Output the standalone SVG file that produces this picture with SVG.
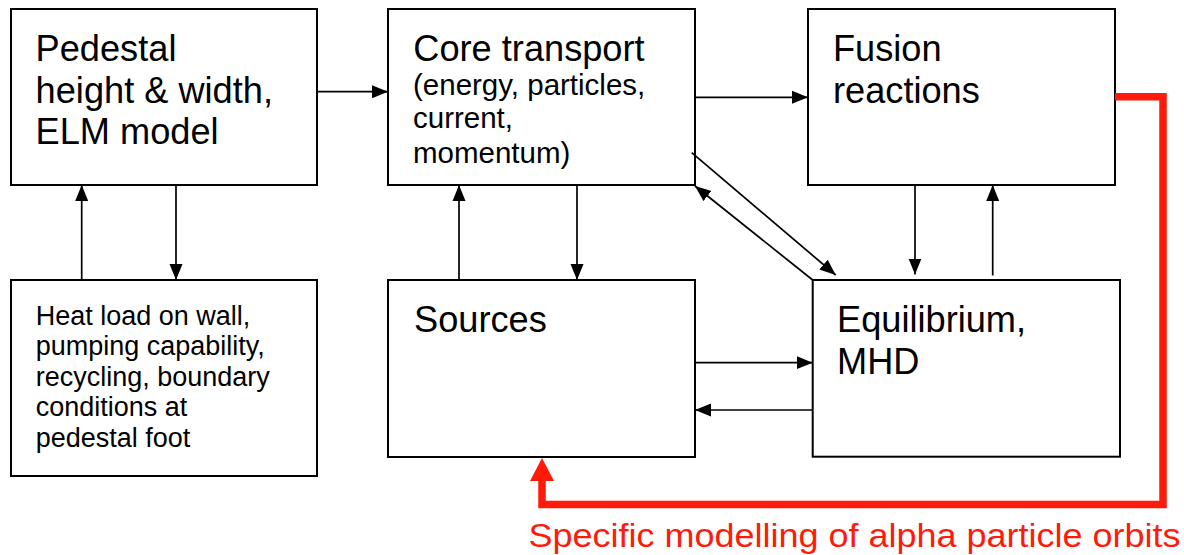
<svg xmlns="http://www.w3.org/2000/svg" width="1184" height="555" viewBox="0 0 1184 555">
<style>
.box{fill:#fff;stroke:#000;stroke-width:2}
.t{font-family:"Liberation Sans",Arial,sans-serif;fill:#000}
.big{font-size:36.2px}
.mid{font-size:29.5px}
.small{font-size:27px}
.arr{stroke:#000;stroke-width:1.7;fill:none;marker-end:url(#ah)}
.red{fill:#ff1a0a}
</style>
<defs>
<marker id="ah" markerUnits="userSpaceOnUse" markerWidth="16" markerHeight="14" refX="16" refY="6.5" orient="auto" viewBox="0 0 16 13">
<path d="M0,0 L16,6.5 L0,13 Z" fill="#000"/>
</marker>
</defs>
<rect width="1184" height="555" fill="#fff"/>
<g id="pedestal">
<rect class="box" x="11" y="9" width="306" height="176"/>
<text class="t big" x="35.6" y="61">Pedestal</text>
<text class="t big" x="35.6" y="102.5">height &amp; width,</text>
<text class="t big" x="35.6" y="144">ELM model</text>
</g>
<g id="core">
<rect class="box" x="388" y="9" width="307" height="176"/>
<text class="t big" x="413.3" y="61">Core transport</text>
<text class="t mid" x="413" y="94.5">(energy, particles,</text>
<text class="t mid" x="413" y="128.3">current,</text>
<text class="t mid" x="413" y="162.5">momentum)</text>
</g>
<g id="fusion">
<rect class="box" x="808" y="9" width="307" height="176"/>
<text class="t big" x="833" y="61">Fusion</text>
<text class="t big" x="833" y="102.5">reactions</text>
</g>
<g id="heat">
<rect class="box" x="11" y="280" width="306" height="196"/>
<text class="t small" x="35.7" y="325">Heat load on wall,</text>
<text class="t small" x="35.7" y="355.3">pumping capability,</text>
<text class="t small" x="35.7" y="385.6">recycling, boundary</text>
<text class="t small" x="35.7" y="416">conditions at</text>
<text class="t small" x="35.7" y="446.5">pedestal foot</text>
</g>
<g id="sources">
<rect class="box" x="388" y="280" width="307" height="177"/>
<text class="t big" x="414" y="332">Sources</text>
</g>
<g id="equilibrium">
<rect class="box" x="812.7" y="280" width="307.3" height="176.7"/>
<text class="t big" x="837" y="332">Equilibrium,</text>
<text class="t big" x="837" y="373.5">MHD</text>
</g>
<g id="connectors">
<line class="arr" x1="317" y1="91.7" x2="388" y2="91.7"/>
<line class="arr" x1="695" y1="97.3" x2="808" y2="97.3"/>
<line class="arr" x1="176" y1="185" x2="176" y2="280"/>
<line class="arr" x1="81.7" y1="280" x2="81.7" y2="185"/>
<line class="arr" x1="459" y1="280" x2="459" y2="185"/>
<line class="arr" x1="577" y1="185" x2="577" y2="280"/>
<line class="arr" x1="915" y1="185" x2="915" y2="274.5"/>
<line class="arr" x1="992.7" y1="275.5" x2="992.7" y2="185"/>
<line class="arr" x1="691.7" y1="152.7" x2="835.7" y2="275"/>
<line class="arr" x1="812.7" y1="280" x2="695" y2="186"/>
<line class="arr" x1="695" y1="362.7" x2="812.7" y2="362.7"/>
<line class="arr" x1="812.7" y1="410" x2="695" y2="410"/>
<polyline points="1115,96.7 1163,96.7 1163,504.5 542,504.5 542,479" fill="none" stroke="#ff1a0a" stroke-width="7.5" stroke-linejoin="miter"/>
<polygon class="red" points="542,458 530,481 554,481"/>
</g>
<text class="t" x="528.5" y="546.5" font-size="34" fill="#ff1a0a" style="fill:#ff1a0a" textLength="652" lengthAdjust="spacingAndGlyphs">Specific modelling of alpha particle orbits</text>
</svg>
